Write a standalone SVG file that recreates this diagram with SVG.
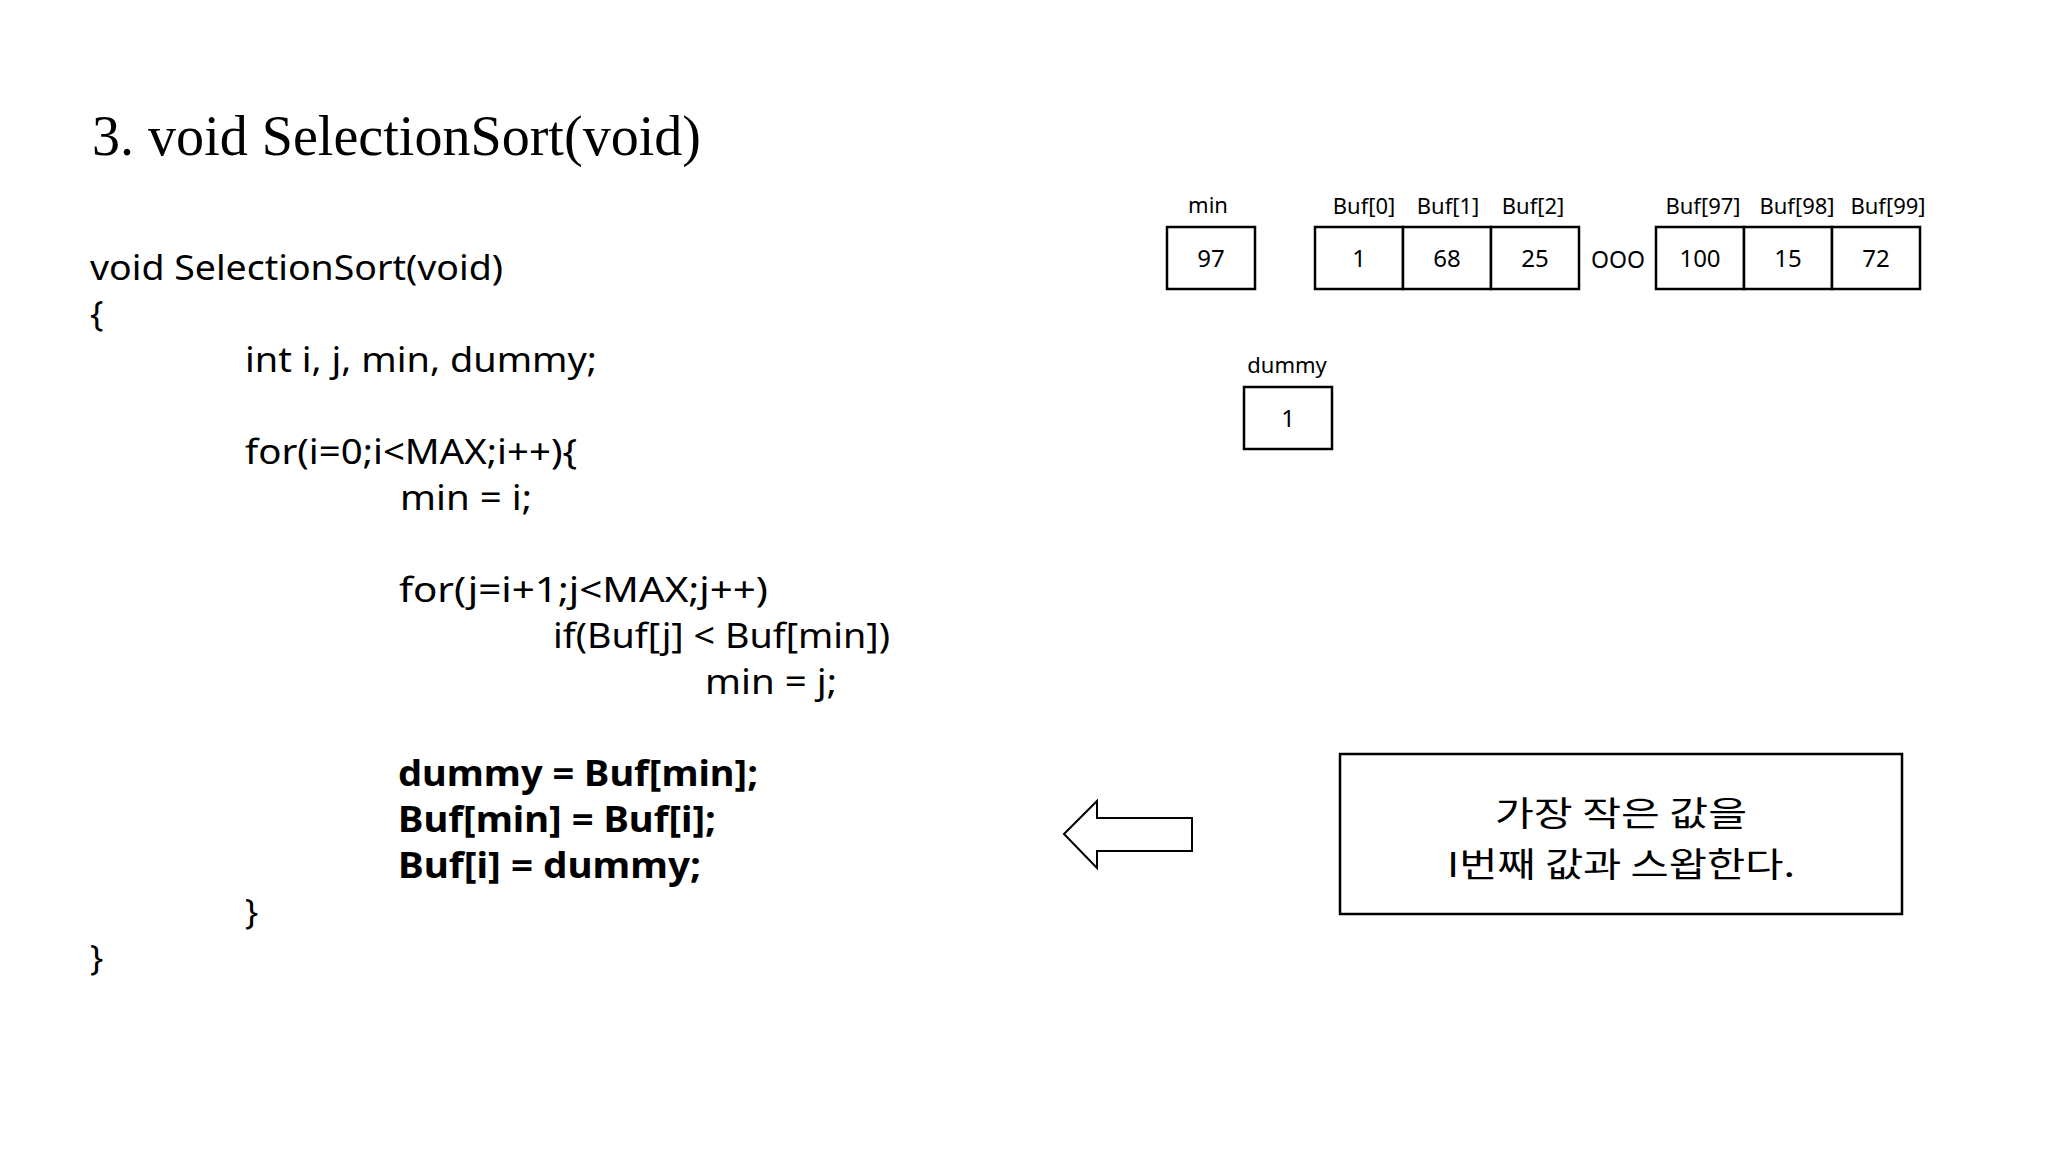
<svg xmlns="http://www.w3.org/2000/svg" width="2048" height="1152" viewBox="0 0 2048 1152">
<style>
.title{font-family:"Liberation Serif","Times New Roman",serif;font-size:56px;fill:#000}
.code{font-family:"Noto Sans","Open Sans",sans-serif;font-size:35px;fill:#000}
.b{font-weight:bold}
.lbl{font-family:"Noto Sans","Open Sans",sans-serif;font-size:22px;fill:#000;text-anchor:middle}
.val{font-family:"Noto Sans","Open Sans",sans-serif;font-size:24px;fill:#000;text-anchor:middle}
.cell{fill:#fff;stroke:#000;stroke-width:2.5}
.note{font-family:"Noto Sans CJK KR","Noto Sans",sans-serif;font-size:34px;fill:#000;text-anchor:middle}
</style>
<rect x="0" y="0" width="2048" height="1152" fill="#fff"/>
<text class="title" x="92" y="155" textLength="609" lengthAdjust="spacingAndGlyphs">3. void SelectionSort(void)</text>
<g id="code">
<text class="code" x="90" y="280" textLength="413" lengthAdjust="spacingAndGlyphs">void SelectionSort(void)</text>
<text class="code" x="90" y="326">{</text>
<text class="code" x="245" y="372" textLength="352" lengthAdjust="spacingAndGlyphs">int i, j, min, dummy;</text>
<text class="code" x="245" y="464" textLength="332" lengthAdjust="spacingAndGlyphs">for(i=0;i&lt;MAX;i++){</text>
<text class="code" x="400" y="510" textLength="132" lengthAdjust="spacingAndGlyphs">min = i;</text>
<text class="code" x="399" y="602" textLength="369" lengthAdjust="spacingAndGlyphs">for(j=i+1;j&lt;MAX;j++)</text>
<text class="code" x="553" y="648" textLength="337" lengthAdjust="spacingAndGlyphs">if(Buf[j] &lt; Buf[min])</text>
<text class="code" x="705" y="694" textLength="132" lengthAdjust="spacingAndGlyphs">min = j;</text>
<text class="code b" x="398" y="786" textLength="360" lengthAdjust="spacingAndGlyphs">dummy = Buf[min];</text>
<text class="code b" x="398" y="832" textLength="318" lengthAdjust="spacingAndGlyphs">Buf[min] = Buf[i];</text>
<text class="code b" x="398" y="878" textLength="303" lengthAdjust="spacingAndGlyphs">Buf[i] = dummy;</text>
<text class="code" x="245" y="924">}</text>
<text class="code" x="90" y="970">}</text>
</g>
<g id="min">
<text class="lbl" x="1208" y="213">min</text>
<rect class="cell" x="1167" y="227" width="88" height="62"/>
<text class="val" x="1211" y="267">97</text>
</g>
<g id="buf-left">
<text class="lbl" x="1364" y="214">Buf[0]</text>
<text class="lbl" x="1448" y="214">Buf[1]</text>
<text class="lbl" x="1533" y="214">Buf[2]</text>
<rect class="cell" x="1315" y="227" width="88" height="62"/>
<rect class="cell" x="1403" y="227" width="88" height="62"/>
<rect class="cell" x="1491" y="227" width="88" height="62"/>
<text class="val" x="1359" y="267">1</text>
<text class="val" x="1447" y="267">68</text>
<text class="val" x="1535" y="267">25</text>
</g>
<g id="ellipsis">
<text class="val" x="1618" y="268" textLength="54" lengthAdjust="spacingAndGlyphs">OOO</text>
</g>
<g id="buf-right">
<text class="lbl" x="1703" y="214">Buf[97]</text>
<text class="lbl" x="1797" y="214">Buf[98]</text>
<text class="lbl" x="1888" y="214">Buf[99]</text>
<rect class="cell" x="1656" y="227" width="88" height="62"/>
<rect class="cell" x="1744" y="227" width="88" height="62"/>
<rect class="cell" x="1832" y="227" width="88" height="62"/>
<text class="val" x="1700" y="267">100</text>
<text class="val" x="1788" y="267">15</text>
<text class="val" x="1876" y="267">72</text>
</g>
<g id="dummy">
<text class="lbl" x="1287" y="373">dummy</text>
<rect class="cell" x="1244" y="387" width="88" height="62"/>
<text class="val" x="1288" y="427">1</text>
</g>
<g id="connectors">
<polygon points="1064,834 1097,801 1097,818 1192,818 1192,851 1097,851 1097,868" fill="#fff" stroke="#000" stroke-width="2"/>
</g>
<g id="note">
<rect x="1340" y="754" width="562" height="160" fill="#fff" stroke="#000" stroke-width="2.5"/>
<text class="note" x="1621" y="826" textLength="252" lengthAdjust="spacingAndGlyphs">가장 작은 값을</text>
<text class="note" x="1621" y="877" textLength="348" lengthAdjust="spacingAndGlyphs">I번째 값과 스왑한다.</text>
</g>
</svg>
